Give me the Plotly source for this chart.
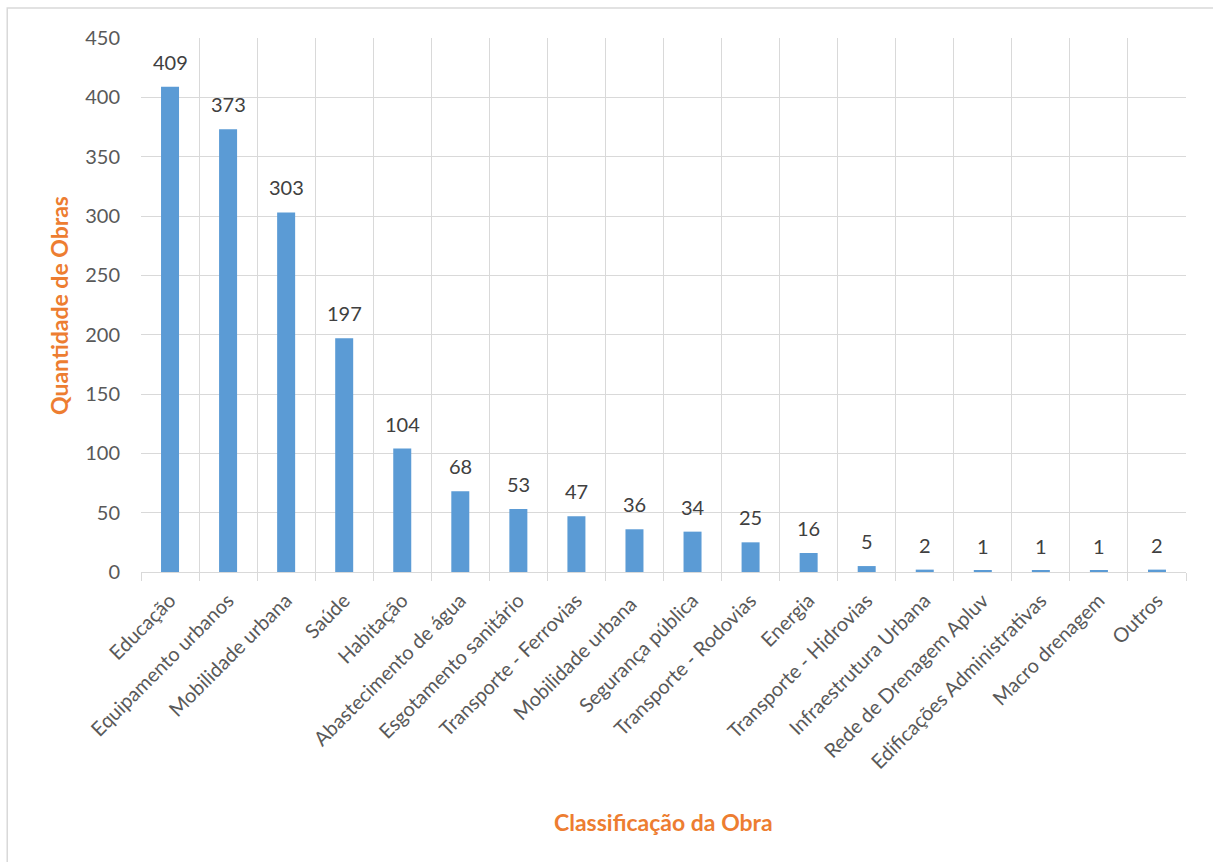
import plotly.graph_objects as go

categorias = [
    "Educação", "Equipamento urbanos", "Mobilidade urbana", "Saúde", "Habitação",
    "Abastecimento de água", "Esgotamento sanitário", "Transporte - Ferrovias",
    "Mobilidade urbana ", "Segurança pública", "Transporte - Rodovias", "Energia",
    "Transporte - Hidrovias", "Infraestrutura Urbana", "Rede de Drenagem Apluv",
    "Edificações Administrativas", "Macro drenagem", "Outros",
]
quantidades = [409, 373, 303, 197, 104, 68, 53, 47, 36, 34, 25, 16, 5, 2, 1, 1, 1, 2]
y_ticks = [0, 50, 100, 150, 200, 250, 300, 350, 400, 450]

FONT = "Lato"
GRID = "#d9d9d9"
ORANGE = "#ED7D31"

fig = go.Figure(
    go.Bar(
        x=categorias,
        y=quantidades,
        marker=dict(color="#5B9BD5", line=dict(width=0)),
        width=0.31,
        hoverinfo="x+y",
    )
)

# value labels floating above each bar
rotulos = [
    dict(
        x=c, y=v, xref="x", yref="y",
        text=str(v),
        showarrow=False,
        xanchor="center", yanchor="bottom",
        yshift=11,
        font=dict(family=FONT, size=20, color="#404040"),
    )
    for c, v in zip(categorias, quantidades)
]

titulos = [
    dict(
        text="<b>Quantidade de Obras</b>",
        xref="paper", yref="paper",
        x=-0.0785, y=0.5,
        xanchor="center", yanchor="middle",
        textangle=-90,
        showarrow=False,
        font=dict(family=FONT, size=23, color=ORANGE),
    ),
    dict(
        text="<b>Classificação da Obra</b>",
        xref="paper", yref="paper",
        x=0.5, y=-0.468,
        xanchor="center", yanchor="middle",
        showarrow=False,
        font=dict(family=FONT, size=23, color=ORANGE),
    ),
]

fig.update_layout(
    width=1213,
    height=862,
    margin=dict(l=141, r=27, t=38, b=290),
    paper_bgcolor="white",
    plot_bgcolor="white",
    showlegend=False,
    font=dict(family=FONT, color="#595959"),
    xaxis=dict(
        type="category",
        tickson="boundaries",
        showgrid=True,
        gridcolor=GRID,
        gridwidth=1,
        showline=True,
        linecolor=GRID,
        linewidth=1,
        ticks="outside",
        ticklen=8,
        tickcolor=GRID,
        tickangle=-45,
        tickfont=dict(family=FONT, size=20, color="#595959"),
        ticklabelstandoff=8,
        range=[-0.5, len(categorias) - 0.5],
    ),
    yaxis=dict(
        range=[0, 450],
        tickvals=y_ticks,
        showgrid=True,
        gridcolor=GRID,
        gridwidth=1,
        zeroline=False,
        showline=False,
        ticks="",
        tickfont=dict(family=FONT, size=20, color="#595959"),
        ticklabelstandoff=20,
    ),
    annotations=rotulos + titulos,
    shapes=[
        dict(
            type="rect",
            xref="paper", yref="paper",
            x0=-0.128, x1=1.06, y0=-0.58, y1=1.056,
            line=dict(color=GRID, width=1.5),
            fillcolor="rgba(0,0,0,0)",
            layer="below",
        )
    ],
)

fig.write_html("out.html")
